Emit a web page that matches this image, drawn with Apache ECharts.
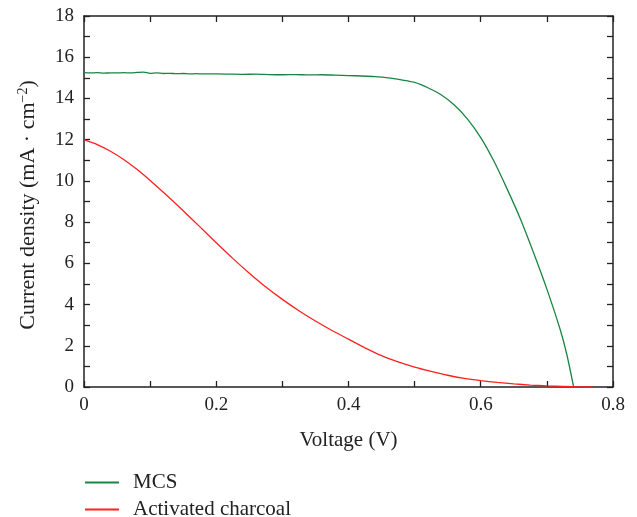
<!DOCTYPE html>
<html><head><meta charset="utf-8">
<script src="https://cdn.jsdelivr.net/npm/echarts@6/dist/echarts.min.js"></script>
<style>html,body{margin:0;padding:0;background:#fff}#c{width:637px;height:517px}</style>
</head><body><div id="c"></div>
<script>
// Voltage (V) and current density (mA/cm^2)
const mcsV = [0,0.01,0.02,0.03,0.04,0.05,0.06,0.07,0.08,0.09,0.10,0.11,0.12,0.13,0.14,0.15,0.16,0.17,0.18,0.19,0.20,0.22,0.24,0.26,0.28,0.30,0.32,0.34,0.36,0.38,0.40,0.42,0.44,0.46,0.48,0.50,0.52,0.54,0.56,0.58,0.60,0.62,0.64,0.66,0.68,0.70,0.72,0.73,0.7405];
const mcsJ = [15.25,15.24,15.25,15.23,15.24,15.24,15.25,15.24,15.26,15.28,15.22,15.24,15.21,15.22,15.20,15.21,15.19,15.20,15.19,15.19,15.19,15.18,15.17,15.18,15.16,15.15,15.16,15.14,15.15,15.13,15.11,15.09,15.06,15.00,14.90,14.78,14.52,14.18,13.68,13.00,12.10,10.95,9.60,8.15,6.50,4.75,2.80,1.60,0.0];
const acV = [0,0.02,0.04,0.06,0.08,0.10,0.125,0.15,0.175,0.20,0.225,0.25,0.275,0.30,0.325,0.35,0.375,0.40,0.425,0.45,0.475,0.50,0.525,0.55,0.575,0.60,0.625,0.65,0.675,0.70,0.725,0.75,0.77];
const acJ = [12.0,11.76,11.44,11.04,10.56,10.02,9.3,8.55,7.78,7.0,6.24,5.52,4.85,4.25,3.7,3.2,2.74,2.32,1.9,1.52,1.22,0.97,0.76,0.57,0.42,0.31,0.22,0.15,0.095,0.055,0.03,0.01,0.0];
const seriesNames = ['MCS','Activated charcoal'];
const xTitle = 'Voltage (V)';

const font = 'Liberation Serif';
const axisCol = '#222';
const chart = echarts.init(document.getElementById('c'));
const pair = (xs, ys) => xs.map((x, i) => [x, ys[i]]);
const common = () => ({
  axisLine: {show: true, onZero: false, lineStyle: {color: axisCol, width: 1.5}},
  axisTick: {show: true, inside: true, length: 6, lineStyle: {color: axisCol, width: 1.3}},
  splitLine: {show: false}
});
const legendBase = {
  orient: 'horizontal', left: 85, padding: 0, itemWidth: 34, itemHeight: 2, icon: 'rect',
  textStyle: {fontFamily: font, fontSize: 21, color: '#222', padding: [0, 0, 0, 9]}
};
chart.setOption({
  animation: false,
  grid: {left: 84, right: 24, top: 16, bottom: 130},
  xAxis: [
    Object.assign({type: 'value', min: 0, max: 0.8, interval: 0.1, position: 'bottom',
      name: xTitle, nameLocation: 'middle', nameGap: 43,
      nameTextStyle: {fontFamily: font, fontSize: 21, color: '#222'},
      axisLabel: {margin: 9, fontFamily: font, fontSize: 19, color: '#222',
        formatter: v => (Math.round(v * 10) % 2 === 0) ? String(Math.round(v * 10) / 10) : ''}}, common()),
    Object.assign({type: 'value', min: 0, max: 0.8, interval: 0.1, position: 'top',
      axisLabel: {show: false}}, common())
  ],
  yAxis: [
    Object.assign({type: 'value', min: 0, max: 18, interval: 1, position: 'left',
      axisLabel: {margin: 10, fontFamily: font, fontSize: 19, color: '#222',
        formatter: v => (Math.round(v) % 2 === 0) ? String(Math.round(v)) : ''}}, common()),
    Object.assign({type: 'value', min: 0, max: 18, interval: 1, position: 'right',
      axisLabel: {show: false}}, common())
  ],
  legend: [
    Object.assign({top: 472, data: [seriesNames[0]]}, legendBase),
    Object.assign({top: 499, data: [seriesNames[1]]}, legendBase)
  ],
  graphic: [{
    type: 'text', x: 28, y: 205, rotation: Math.PI / 2,
    style: {
      text: 'Current density (mA · cm{sup|−2})',
      fontFamily: font, fontSize: 22, fill: '#222',
      align: 'center', verticalAlign: 'middle',
      rich: {sup: {fontFamily: font, fontSize: 14, fill: '#222', padding: [0, 0, 10, 0]}}
    }
  }],
  series: [
    {name: seriesNames[0], type: 'line', showSymbol: false, symbol: 'none', smooth: 0.25,
      data: pair(mcsV, mcsJ), lineStyle: {color: '#1a8542', width: 1.3}, itemStyle: {color: '#1a8542'}},
    {name: seriesNames[1], type: 'line', showSymbol: false, symbol: 'none', smooth: 0.25,
      data: pair(acV, acJ), lineStyle: {color: '#ff2020', width: 1.3}, itemStyle: {color: '#ff2020'}}
  ]
});
</script></body></html>
